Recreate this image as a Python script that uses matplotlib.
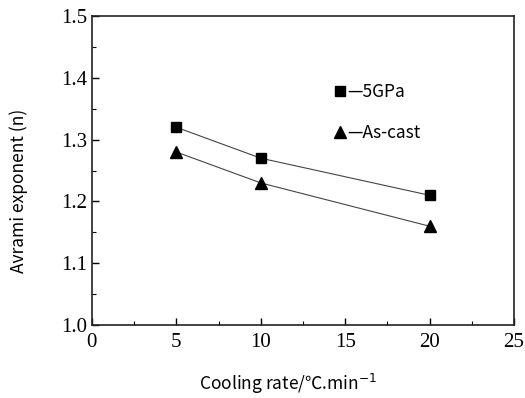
import matplotlib
matplotlib.use('Agg')
from matplotlib import pyplot as plt
from matplotlib.ticker import MultipleLocator, FormatStrFormatter

# data
cooling_rate = [5, 10, 20]
n_5gpa = [1.32, 1.27, 1.21]
n_ascast = [1.28, 1.23, 1.16]

sans = ['Noto Sans CJK SC', 'DejaVu Sans']
serif = 'Liberation Serif'

fig = plt.figure(figsize=(5.25, 3.98), dpi=100)
ax = fig.add_axes([0.175, 0.183, 0.804, 0.777])

ax.plot(cooling_rate, n_5gpa, color='#444444', lw=0.8, marker='s', ms=7,
        mfc='black', mec='black', label='—5GPa')
ax.plot(cooling_rate, n_ascast, color='#444444', lw=0.8, marker='^', ms=8,
        mfc='black', mec='black', label='—As-cast')

ax.set_xlim(0, 25)
ax.set_ylim(1.0, 1.5)
ax.xaxis.set_major_locator(MultipleLocator(5))
ax.xaxis.set_minor_locator(MultipleLocator(2.5))
ax.yaxis.set_major_locator(MultipleLocator(0.1))
ax.yaxis.set_minor_locator(MultipleLocator(0.05))
ax.yaxis.set_major_formatter(FormatStrFormatter('%.1f'))

ax.tick_params(which='both', direction='in', top=False, right=False)
ax.tick_params(which='major', length=5, width=1, labelsize=15)
ax.tick_params(axis='x', which='major', pad=6)
ax.tick_params(which='minor', length=3, width=0.8)
for lab in ax.get_xticklabels() + ax.get_yticklabels():
    lab.set_fontfamily(serif)
for s in ax.spines.values():
    s.set_linewidth(1.2)
    s.set_color('#222222')

ax.set_ylabel('Avrami exponent (n)', family=sans, fontsize=12.5, fontweight='light')
ax.yaxis.set_label_coords(-0.152, 0.434)
ax.set_xlabel('Cooling rate/℃.min$^{-1}$', family=sans, fontsize=12.5, fontweight='light')
ax.xaxis.set_label_coords(0.464, -0.15)

leg = ax.legend(loc='upper left', bbox_to_anchor=(0.534, 0.832), frameon=False,
                handlelength=0.8, handletextpad=0.0, labelspacing=1.3,
                prop={'family': sans, 'size': 12.5, 'weight': 'light'})
for h in leg.legend_handles:
    h.set_linestyle('none')

fig.savefig('out.png', dpi=100)
